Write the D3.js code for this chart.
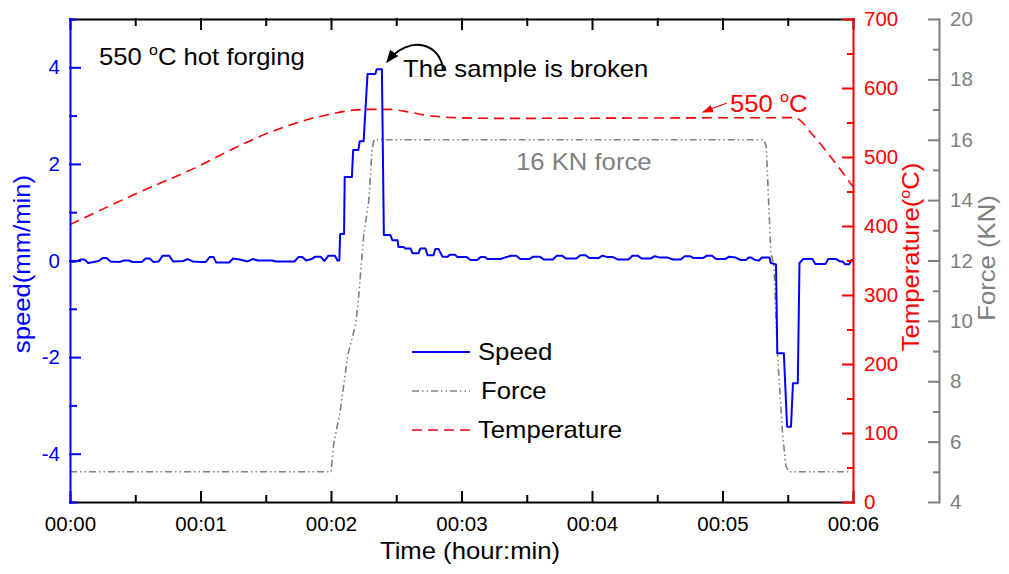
<!DOCTYPE html>
<html>
<head>
<meta charset="utf-8">
<script src="https://cdn.jsdelivr.net/npm/d3@7"></script>
<style>
  body { margin: 0; background: #fff; }
  text { font-family: "Liberation Sans", Arial, sans-serif; }
</style>
</head>
<body>
<svg></svg>
<script>
// time in minutes
const speedPoints = [
  [0, -0.03], [0.05, -0.02], [0.08, 0.02], [0.11, 0.02], [0.14, -0.05], [0.18, -0.03], [0.22, -0.01],
  [0.25, 0.05], [0.28, 0.05], [0.31, -0.02], [0.38, -0.03], [0.41, 0.0], [0.45, 0.0], [0.48, -0.03],
  [0.55, -0.03], [0.58, 0.04], [0.61, 0.04], [0.64, -0.03], [0.68, -0.02], [0.71, 0.1], [0.76, 0.1],
  [0.79, -0.02], [0.87, -0.01], [0.9, 0.03], [0.94, -0.02], [1.0, -0.03], [1.04, -0.03], [1.07, 0.07],
  [1.1, 0.07], [1.12, -0.04], [1.22, -0.04], [1.25, 0.04], [1.3, 0.02], [1.36, -0.02], [1.4, 0.03],
  [1.44, 0.0], [1.55, 0.0], [1.58, -0.02], [1.72, -0.02], [1.75, 0.07], [1.78, 0.07], [1.81, 0.0],
  [1.85, 0.03], [1.88, 0.08], [1.92, 0.08], [1.95, -0.01], [1.98, 0.1], [2.03, 0.1], [2.05, 0.0],
  [2.064, 0.0], [2.07, 0.55], [2.1, 0.55], [2.105, 1.73], [2.16, 1.73], [2.17, 2.29], [2.21, 2.29],
  [2.22, 2.47], [2.25, 2.47], [2.28, 3.86], [2.34, 3.86], [2.35, 3.96], [2.39, 3.96], [2.405, 0.53],
  [2.455, 0.53], [2.47, 0.42], [2.51, 0.42], [2.517, 0.28], [2.555, 0.28], [2.57, 0.25], [2.61, 0.25],
  [2.624, 0.15], [2.67, 0.15], [2.685, 0.25], [2.724, 0.25], [2.74, 0.11], [2.785, 0.11], [2.8, 0.24],
  [2.824, 0.24], [2.854, 0.08], [2.893, 0.08], [2.91, 0.12], [2.95, 0.12], [2.97, 0.07], [3.04, 0.07],
  [3.07, 0.01], [3.12, 0.01], [3.146, 0.07], [3.18, 0.07], [3.2, 0.03], [3.3, 0.03], [3.33, 0.06],
  [3.38, 0.1], [3.42, 0.1], [3.45, 0.03], [3.52, 0.03], [3.55, 0.08], [3.6, 0.08], [3.63, 0.02],
  [3.7, 0.02], [3.73, 0.1], [3.77, 0.1], [3.8, 0.04], [3.88, 0.04], [3.91, 0.11], [3.95, 0.11],
  [3.98, 0.05], [4.05, 0.05], [4.08, 0.1], [4.12, 0.07], [4.16, 0.07], [4.2, 0.02], [4.28, 0.02],
  [4.31, 0.1], [4.35, 0.1], [4.38, 0.04], [4.45, 0.04], [4.48, 0.09], [4.52, 0.06], [4.58, 0.06],
  [4.62, 0.02], [4.68, 0.02], [4.71, 0.09], [4.75, 0.09], [4.78, 0.05], [4.85, 0.05], [4.88, 0.1],
  [4.92, 0.1], [4.95, 0.03], [5.02, 0.03], [5.05, 0.08], [5.1, 0.06], [5.14, 0.01], [5.18, 0.01],
  [5.2, 0.06], [5.22, 0.06], [5.25, 0.01], [5.28, 0.0], [5.3, 0.06], [5.36, 0.06], [5.37, -0.05],
  [5.41, -0.08], [5.42, -1.92], [5.47, -1.92], [5.495, -3.44], [5.525, -3.44], [5.54, -2.54],
  [5.577, -2.54], [5.59, -0.05], [5.62, 0.03], [5.69, 0.03], [5.71, -0.07], [5.79, -0.07],
  [5.81, 0.03], [5.87, 0.03], [5.9, -0.02], [5.92, -0.02], [5.94, -0.08], [5.97, -0.08],
  [5.99, 0.01], [6.0, 0.0]
]

const forcePoints = [
  [0, 5], [2.0, 5], [2.02, 5.9], [2.07, 7.0], [2.13, 8.9], [2.19, 9.9], [2.21, 10.7], [2.25, 12.8],
  [2.29, 14.0], [2.315, 15.7], [2.33, 16.0], [5.315, 16.0], [5.335, 15.8], [5.37, 12.3],
  [5.395, 11.8], [5.42, 9.0], [5.46, 6.3], [5.485, 5.2], [5.51, 5.0], [5.99, 5.0]
]

const tempPoints = [
  [0, 402], [0.485, 445], [1.0, 488], [1.25, 512], [1.59, 540], [1.9, 558], [2.28, 569], [2.45, 569],
  [2.6, 565], [2.75, 560], [2.95, 557], [3.3, 556], [5.55, 557], [5.7, 530], [5.85, 495], [6.0, 457]
]

const timeTicks = [0, 1, 2, 3, 4, 5, 6]
const timeMinor = [0.5, 1.5, 2.5, 3.5, 4.5, 5.5]
const speedTicks = [-4, -2, 0, 2, 4]
const speedMinor = [-5, -3, -1, 1, 3, 5]
const tempTicks = [0, 100, 200, 300, 400, 500, 600, 700]
const tempMinor = [50, 150, 250, 350, 450, 550, 650]
const forceTicks = [4, 6, 8, 10, 12, 14, 16, 18, 20]
const forceMinor = [5, 7, 9, 11, 13, 15, 17, 19]

const legendItems = ['Speed', 'Force', 'Temperature']

const width = 1009, height = 574
const svg = d3.select('svg').attr('width', width).attr('height', height)

const plotLeft = 70, plotRight = 853, plotTop = 19, plotBottom = 502
const x = d3.scaleLinear().domain([0, 6]).range([plotLeft, plotRight])
const ySpeed = d3.scaleLinear().domain([-5, 5]).range([plotBottom, plotTop])
const yTemp = d3.scaleLinear().domain([0, 700]).range([plotBottom, plotTop])
const yForce = d3.scaleLinear().domain([4, 20]).range([plotBottom, plotTop])

const blue = '#0000ff', red = '#ff0000', grey = '#808080'
const forceDash = '7,3,1.5,3,1.5,3'
const tempDash = '10,6'
const stretch = 1.07   // the original lettering is a little wider than Arial

const defs = svg.append('defs')
defs.append('marker').attr('id', 'arrBlack')
  .attr('viewBox', '0 0 10 10').attr('refX', 9).attr('refY', 5)
  .attr('markerUnits', 'userSpaceOnUse').attr('markerWidth', 13).attr('markerHeight', 13)
  .attr('orient', 'auto')
  .append('path').attr('d', 'M0,1 L10,5 L0,9 z').attr('fill', '#000')
defs.append('marker').attr('id', 'arrRed')
  .attr('viewBox', '0 0 10 10').attr('refX', 9).attr('refY', 5)
  .attr('markerUnits', 'userSpaceOnUse').attr('markerWidth', 11).attr('markerHeight', 11)
  .attr('orient', 'auto')
  .append('path').attr('d', 'M0,1.5 L10,5 L0,8.5 z').attr('fill', red)

// lines
const lineSpeed = d3.line().x(d => x(d[0])).y(d => ySpeed(d[1]))
const lineForce = d3.line().x(d => x(d[0])).y(d => yForce(d[1]))
const lineTemp = d3.line().x(d => x(d[0])).y(d => yTemp(d[1])).curve(d3.curveMonotoneX)

svg.append('path').datum(tempPoints).attr('d', lineTemp)
  .attr('fill', 'none').attr('stroke', red).attr('stroke-width', 1.6).attr('stroke-dasharray', tempDash)
svg.append('path').datum(forcePoints).attr('d', lineForce)
  .attr('fill', 'none').attr('stroke', grey).attr('stroke-width', 1.6).attr('stroke-dasharray', forceDash)
svg.append('path').datum(speedPoints).attr('d', lineSpeed)
  .attr('fill', 'none').attr('stroke', blue).attr('stroke-width', 2).attr('stroke-linejoin', 'round')

// axes
function styleAxis(g, color) {
  g.attr('color', color)
  g.selectAll('path, line').attr('stroke-width', 2).attr('stroke-linecap', 'square')
  g.selectAll('text').attr('font-size', 20.5).attr('font-family', '"Liberation Sans", Arial, sans-serif')
}
function addAxis(axis, tr, color, minor) {
  const g = svg.append('g').attr('transform', tr).call(axis)
  styleAxis(g, color)
  if (minor) g.select('.domain').remove()
  return g
}

addAxis(d3.axisBottom(x).tickValues(timeTicks).tickSize(-10).tickSizeOuter(0).tickPadding(14)
  .tickFormat(d => '00:0' + d), `translate(0,${plotBottom})`, '#000')
addAxis(d3.axisBottom(x).tickValues(timeMinor).tickSize(-6).tickFormat(''), `translate(0,${plotBottom})`, '#000', true)
addAxis(d3.axisTop(x).tickValues(timeTicks).tickSize(-10).tickSizeOuter(0).tickFormat(''), `translate(0,${plotTop})`, '#000')
addAxis(d3.axisTop(x).tickValues(timeMinor).tickSize(-6).tickFormat(''), `translate(0,${plotTop})`, '#000', true)

addAxis(d3.axisLeft(ySpeed).tickValues(speedTicks).tickSize(-10).tickSizeOuter(0).tickPadding(10)
  .tickFormat(d => String(d)), `translate(${plotLeft},0)`, blue)
addAxis(d3.axisLeft(ySpeed).tickValues(speedMinor).tickSize(-6).tickFormat(''), `translate(${plotLeft},0)`, blue, true)

addAxis(d3.axisRight(yTemp).tickValues(tempTicks).tickSize(-10).tickSizeOuter(0).tickPadding(11)
  .tickFormat(d => String(d)), `translate(${plotRight},0)`, red)
addAxis(d3.axisRight(yTemp).tickValues(tempMinor).tickSize(-5).tickFormat(''), `translate(${plotRight},0)`, red, true)

addAxis(d3.axisRight(yForce).tickValues(forceTicks).tickSize(-10).tickSizeOuter(0).tickPadding(11)
  .tickFormat(d => String(d)), `translate(939,0)`, grey)
addAxis(d3.axisRight(yForce).tickValues(forceMinor).tickSize(-5).tickFormat(''), `translate(939,0)`, grey, true)

// big text helper: placed at (px,py), optional rotation, stretched a bit horizontally
function bigText(px, py, rot, color, anchor) {
  return svg.append('g')
    .attr('transform', `translate(${px},${py}) rotate(${rot}) scale(${stretch},1)`)
    .append('text').attr('text-anchor', anchor || 'start')
    .attr('font-size', 24).attr('fill', color)
}

// axis titles
bigText(470, 559, 0, '#000', 'middle').text('Time (hour:min)')
bigText(30, 264, -90, blue, 'middle').text('speed(mm/min)')

const tt = bigText(919, 257, -90, red, 'middle')
tt.append('tspan').text('Temperature(')
tt.append('tspan').attr('font-size', 15).attr('dy', -9).text('o')
tt.append('tspan').attr('dy', 9).text('C)')

bigText(995, 258, -90, grey, 'middle').text('Force (KN)')

// annotations
const t1 = bigText(99, 65, 0, '#000')
t1.append('tspan').text('550 ')
t1.append('tspan').attr('font-size', 15).attr('dy', -10).text('o')
t1.append('tspan').attr('dy', 10).text('C hot forging')

bigText(403, 77, 0, '#000').text('The sample is broken')
svg.append('path').attr('d', 'M443,71 C442,44 410,33 387,62')
  .attr('fill', 'none').attr('stroke', '#000').attr('stroke-width', 2).attr('marker-end', 'url(#arrBlack)')

const t2 = bigText(730, 112, 0, red)
t2.append('tspan').text('550 ')
t2.append('tspan').attr('font-size', 15).attr('dy', -10).text('o')
t2.append('tspan').attr('dy', 10).text('C')
svg.append('path').attr('d', 'M727,103 L703,112')
  .attr('fill', 'none').attr('stroke', red).attr('stroke-width', 1.2).attr('marker-end', 'url(#arrRed)')

bigText(516, 170, 0, grey).text('16 KN force')

// legend
const legendStyle = [
  { color: blue, dash: null, w: 2 },
  { color: grey, dash: forceDash, w: 1.6 },
  { color: red, dash: tempDash, w: 1.6 }
]
legendItems.forEach((name, i) => {
  const s = legendStyle[i]
  const yy = 352 + i * 39
  svg.append('line').attr('x1', 412).attr('x2', 470).attr('y1', yy).attr('y2', yy)
    .attr('stroke', s.color).attr('stroke-width', s.w).attr('stroke-dasharray', s.dash)
  bigText(i === 1 ? 481 : 478, yy + 8, 0, '#000').text(name)
})
</script>
</body>
</html>
